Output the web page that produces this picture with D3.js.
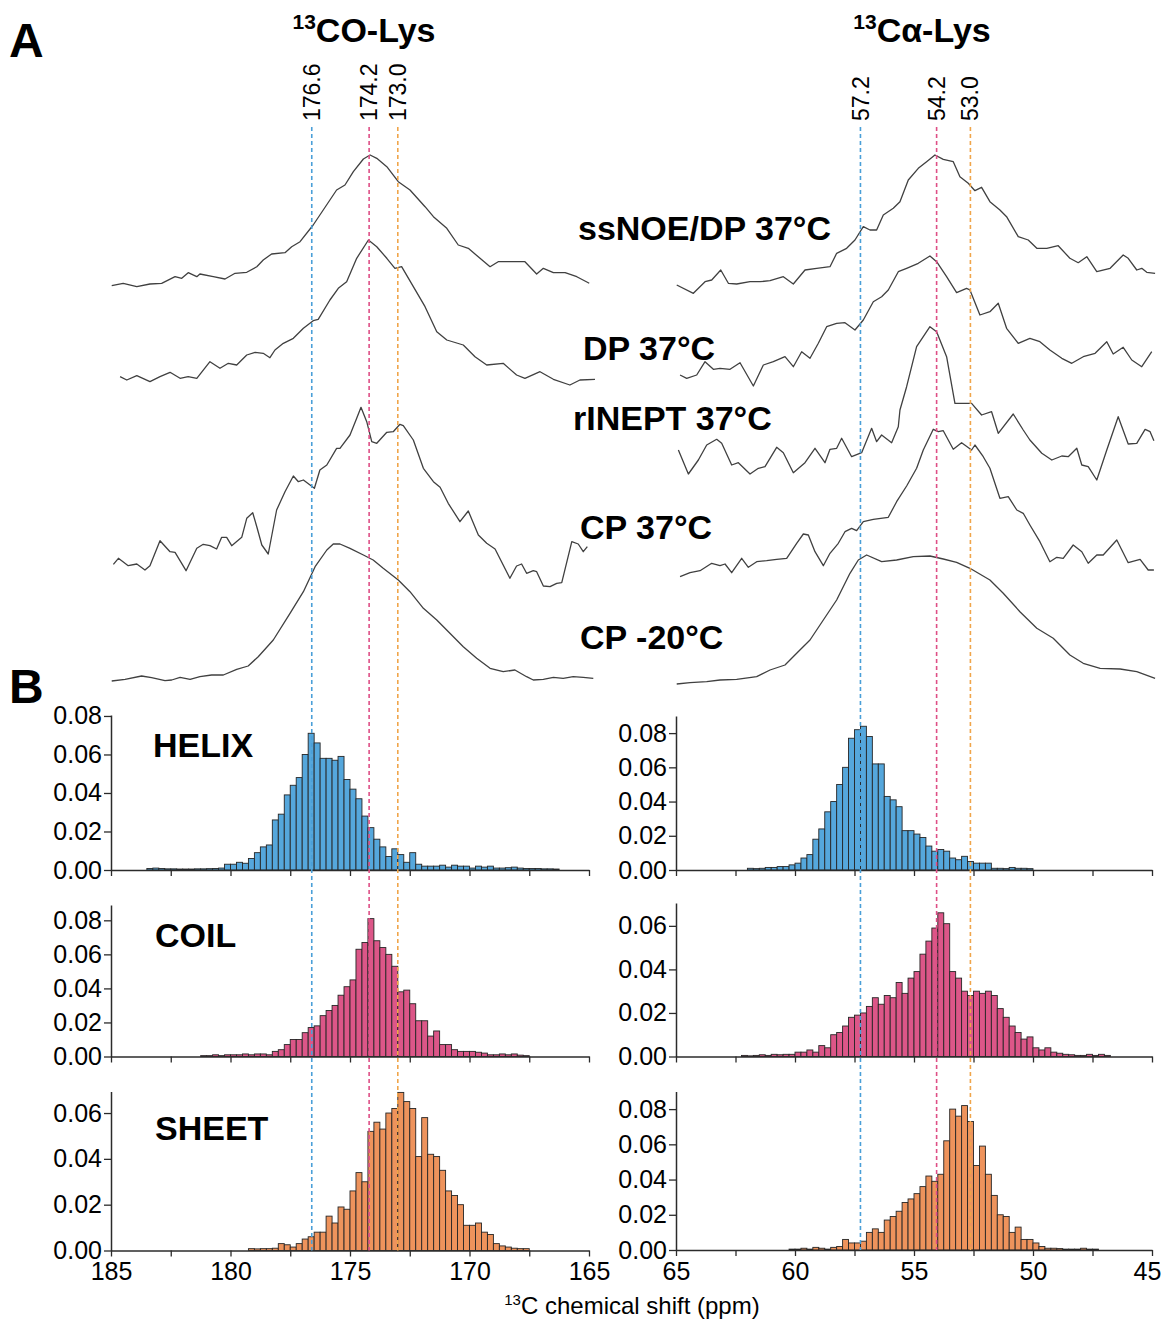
<!DOCTYPE html>
<html>
<head>
<meta charset="utf-8">
<script src="https://cdn.jsdelivr.net/npm/d3@7"></script>
<style>
  body { margin: 0; background: #fff; }
  text { font-family: Arial, "Liberation Sans", sans-serif; fill: #000; }
</style>
</head>
<body>
<svg id="chart" width="1163" height="1322"></svg>
<script>
// ---------- data: spectra, [ppm, intensity a.u.] ----------
const spectrumNames = ["ssNOE/DP 37°C", "DP 37°C", "rINEPT 37°C", "CP 37°C", "CP -20°C"];

const coSsnoe = [[184.97,4.3],[184.49,6.7],[183.92,3.3],[183.37,6],[182.88,6.7],[182.32,13.3],[182.04,11.7],[181.77,17.3],[181.41,13.3],[181.28,16],[180.72,13.3],[180.23,11],[179.81,16.7],[179.32,17.7],[178.9,23.3],[178.63,30],[178.28,36],[177.72,37.3],[177.44,43.3],[177.09,48.3],[176.54,65],[175.84,90],[175.56,100],[175.21,105],[174.86,118.3],[174.44,131],[174.16,135],[173.88,131.7],[173.46,123.3],[172.98,108.3],[172.49,100],[171.86,83.3],[171.51,73.3],[170.95,61.7],[170.47,45],[170.05,41.7],[169.56,31.7],[169.14,23.3],[168.8,28.3],[168.31,28.3],[167.68,28.3],[167.19,16],[166.91,21.7],[166.49,17.3],[166.0,17.3],[165.51,13.3],[164.99,6.7]];
const coDp = [[184.62,8.3],[184.34,5],[183.92,9.3],[183.37,3.3],[182.95,8.3],[182.53,12.7],[182.11,6.7],[181.77,8.3],[181.41,6.7],[180.86,23.3],[180.44,16.7],[180.09,21.7],[179.74,20],[179.32,30],[178.97,32.7],[178.63,31.7],[178.35,27.3],[178.14,35],[177.79,41.7],[177.37,46.7],[176.95,56.7],[176.54,64.3],[176.33,65.7],[175.84,85],[175.49,96.7],[175.14,103.3],[174.72,126.7],[174.23,145],[173.88,138.3],[173.46,126.7],[173.12,116.7],[172.84,118.3],[172.35,98.3],[171.86,78.3],[171.37,53.3],[170.95,45],[170.26,40],[169.77,28.3],[169.28,20],[168.59,21.7],[168.03,10],[167.68,6.7],[167.05,13.3],[166.49,5.7],[165.8,0],[165.38,5],[164.75,5.7]];
const coCp37 = [[184.9,25.7],[184.69,31.7],[184.28,24.3],[183.92,26],[183.58,20],[183.37,24.3],[182.95,49.3],[182.53,38.3],[182.32,37.7],[181.86,19.3],[181.41,41.7],[181.14,45.7],[180.86,44.3],[180.58,41],[180.37,52.7],[180.16,52.7],[179.95,44.3],[179.53,52.7],[179.32,71.7],[179.07,77.3],[178.9,63.3],[178.69,45],[178.42,36],[178.07,80],[177.72,98.3],[177.37,114],[177.16,108.3],[176.95,110],[176.49,101.7],[176.26,120],[175.97,125],[175.56,141.7],[175.42,141.7],[175.0,155],[174.72,171.7],[174.54,182.7],[174.3,168.3],[174.09,148.3],[173.88,146.7],[173.46,157.7],[173.19,158.3],[172.91,165.7],[172.77,164.3],[172.35,150],[171.93,121.7],[171.51,108.3],[171.23,102.7],[170.89,86.7],[170.4,68.3],[170.05,79],[169.63,55],[169.28,46.7],[168.93,41],[168.31,11.7],[168.03,24],[167.82,26],[167.61,16.7],[167.33,19.3],[167.19,18.3],[166.91,4],[166.63,3.3],[166.35,6.7],[166.14,7.3],[165.72,48.3],[165.45,46],[165.24,38.3],[165.07,43.3]];
const coCp20 = [[184.97,4],[184.41,5.7],[183.72,9],[183.3,7.3],[182.74,4.3],[182.46,5],[182.11,7.7],[181.69,5.7],[181.28,8.3],[180.79,10],[180.3,10],[179.74,15.7],[179.26,19],[178.84,28.3],[178.21,45],[177.51,71.7],[176.95,93.3],[176.46,118.3],[175.97,135],[175.7,141],[175.42,141],[175.0,136.7],[174.44,130],[174.03,125],[173.61,116.7],[172.98,105],[172.49,93.3],[171.93,76.7],[171.37,65],[170.82,51.7],[170.26,38.3],[169.7,26.7],[169.14,16.7],[168.59,13.3],[168.1,15],[167.61,8.3],[167.33,5],[166.91,5.7],[166.49,7.7],[166.08,6.7],[165.66,8.3],[165.24,7.7],[164.82,6.7]];

const caSsnoe = [[64.97,10],[64.27,1.7],[63.78,13.3],[63.5,15],[63.12,25],[62.8,11.7],[62.45,11],[61.89,13.3],[61.47,13.3],[61.05,14.3],[60.49,18.3],[60.07,11],[59.58,25],[59.09,26.7],[58.53,28.3],[58.25,41.7],[57.83,46.7],[57.48,55],[57.13,68.3],[56.85,65],[56.57,65],[56.29,80],[55.87,86.7],[55.59,93.3],[55.24,115],[54.82,126.7],[54.47,133.3],[54.12,140],[53.77,135.7],[53.35,133.3],[53.07,118.3],[52.72,111.7],[52.44,104.3],[52.16,107.7],[51.81,93.3],[51.39,85],[51.11,78.3],[50.62,58.3],[50.2,55],[49.84,46.7],[49.42,46.7],[48.94,49.3],[48.45,36.7],[48.1,32.3],[47.74,38.3],[47.32,23.3],[46.76,26.7],[46.21,40],[46.0,36.7],[45.64,25],[45.43,26.7],[45.22,22.7],[44.87,21.7]];
const caDp = [[64.83,15],[64.55,11.7],[64.13,15],[63.78,28.3],[63.43,20.7],[63.15,21.7],[62.73,20.7],[62.31,27.3],[61.75,4],[61.33,25],[60.91,28.3],[60.42,33.3],[60.07,23.3],[59.72,38.3],[59.37,31.7],[59.02,46.7],[58.67,63.3],[58.25,66.7],[57.9,67.3],[57.48,60],[57.13,70],[56.71,88.3],[56.36,93.3],[56.08,100],[55.66,118.3],[55.31,121.7],[54.82,126.7],[54.33,134],[54.05,128.3],[53.63,113.3],[53.21,97.3],[52.79,101.7],[52.65,100],[52.23,75],[51.81,78.3],[51.46,86.7],[51.11,61.7],[50.62,46.7],[50.13,51.7],[49.71,48.3],[49.29,40],[48.79,31.7],[48.37,26.7],[47.89,33.3],[47.39,36.7],[46.9,48.3],[46.63,36],[46.21,42.7],[45.85,30],[45.43,23.3],[45.01,38.3]];
const caRinept = [[64.9,30],[64.48,6],[64.06,20],[63.71,35],[63.29,40.7],[63.08,36.7],[62.66,15],[62.38,17.3],[61.89,6],[61.54,11.7],[61.26,13.3],[60.77,32.7],[60.49,27.3],[60.07,7.3],[59.58,17.3],[59.16,31.7],[58.74,17.3],[58.53,30.7],[58.25,31.7],[58.04,41.7],[57.62,23.3],[57.2,27.3],[56.78,51.7],[56.57,38.3],[56.36,45],[55.94,37.3],[55.66,53.3],[55.59,70],[55.31,93.3],[54.89,133.3],[54.33,153.3],[54.05,148.3],[53.63,123.3],[53.28,76.7],[52.58,76.7],[52.16,65],[51.74,68.3],[51.46,46.7],[50.83,66],[50.41,50],[50.13,40],[49.63,26.7],[49.21,20],[48.79,24],[48.52,23.3],[48.16,31.7],[47.95,15],[47.68,13.3],[47.32,0],[46.9,30],[46.42,63.3],[46.0,36],[45.64,36.7],[45.29,50.7],[45.08,48.3],[44.92,39.3]];
const caCp37 = [[64.83,13.3],[64.41,17.3],[63.99,19.3],[63.5,26.7],[63.15,24.3],[62.94,26],[62.66,17.3],[62.24,31.7],[61.96,22.7],[61.61,28.3],[61.19,29.3],[60.77,30.7],[60.35,31.7],[59.93,46.7],[59.65,56],[59.44,55],[59.16,38.3],[58.81,24.3],[58.53,36.7],[58.18,46.7],[57.9,58.3],[57.62,61.7],[57.41,59.3],[57.13,68.3],[56.71,70.7],[56.08,72.7],[55.73,88.3],[55.31,104],[54.89,121.7],[54.61,140],[54.19,160.7],[53.98,158.3],[53.77,159.3],[53.35,140.7],[53.0,147.3],[52.58,140],[52.44,145],[52.09,133.3],[51.81,121.7],[51.39,91.7],[51.04,93.3],[50.68,80],[50.41,76.7],[50.13,65],[49.71,48.3],[49.29,28.3],[49.0,32.7],[48.73,31.7],[48.31,45],[47.95,38.3],[47.68,26.7],[47.32,35],[47.05,35],[46.48,50],[46.0,27.3],[45.5,30.7],[45.16,20],[44.92,20]];
const caCp20 = [[64.97,1],[64.41,2.3],[63.71,3.3],[63.15,5],[62.45,5.7],[61.61,8.3],[61.05,15],[60.42,20],[59.93,31.7],[59.37,45],[58.81,65],[58.25,85],[57.69,111.7],[57.34,125],[56.99,130],[56.36,123.3],[55.73,125],[55.03,128.3],[54.33,129],[53.77,126],[53.21,122.7],[52.65,116.7],[51.81,105],[51.25,91.7],[50.55,73.3],[49.84,56.7],[49.15,46.7],[48.45,30],[47.89,21.7],[47.18,16.7],[46.34,16],[45.64,13.3],[44.87,6.7]];

// vertical stacking offsets of the five spectra (a.u.), no rINEPT trace for CO
const coOffsets = [410, 315, null, 110, 15];
const caOffsets = [405, 310, 220, 110, 15];

// ---------- data: reference shifts ----------
const coMarks = [176.6, 174.2, 173.0];
const coMarkLabels = ["176.6", "174.2", "173.0"];
const caMarks = [57.25, 54.05, 52.63];
const caMarkLabels = ["57.2", "54.2", "53.0"];

// ---------- data: histograms, bin width 0.25 ppm, first value = bin below start ppm ----------
const binWidth = 0.25;
const structNames = ["HELIX", "COIL", "SHEET"];

const helixCoStart = 183.5;
const helixCo = [.0008,.001,.0008,.0006,.0006,.0005,.0005,.0005,.0006,.0006,.0007,.0008,.001,.003,.003,.004,.0035,.006,.009,.012,.013,.026,.029,.039,.044,.048,.060,.071,.066,.058,.058,.057,.059,.047,.042,.037,.028,.022,.016,.012,.007,.011,.008,.004,.009,.003,.002,.002,.002,.0025,.0015,.0025,.002,.002,.001,.002,.0015,.002,.001,.001,.0012,.0015,.001,.0008,.0008,.0008,.0006,.0006,.0005];
const helixCaStart = 62.0;
const helixCa = [.001,.0008,.001,.0015,.0015,.002,.002,.003,.004,.007,.009,.018,.024,.034,.040,.050,.060,.077,.082,.084,.078,.062,.062,.043,.041,.037,.023,.023,.021,.019,.014,.011,.012,.011,.007,.006,.008,.005,.004,.004,.004,.001,.001,.0008,.0015,.001,.001,.0008];

const coilCoStart = 181.25;
const coilCo = [.0005,.0005,.001,.0005,.001,.001,.001,.0015,.001,.0015,.0015,.001,.003,.004,.007,.010,.010,.014,.017,.018,.024,.027,.030,.036,.041,.045,.063,.067,.081,.068,.064,.060,.053,.038,.039,.031,.021,.021,.012,.015,.007,.007,.004,.003,.003,.003,.0025,.002,.001,.001,.0015,.001,.0015,.0008,.0005];
const coilCaStart = 62.25;
const coilCa = [.0005,.0003,.0005,.0008,.0005,.001,.0008,.001,.001,.002,.002,.003,.002,.005,.004,.010,.011,.014,.018,.019,.020,.023,.027,.024,.028,.027,.034,.029,.036,.039,.047,.053,.059,.066,.061,.039,.036,.030,.028,.030,.029,.030,.028,.022,.018,.014,.011,.008,.009,.004,.003,.004,.002,.0015,.001,.0008,.0005,.0005,.001,.0005,.001,.0005];

const sheetCoStart = 179.25;
const sheetCo = [.0008,.0007,.0008,.0008,.001,.003,.0025,.0015,.003,.005,.006,.008,.008,.015,.012,.019,.018,.026,.034,.030,.052,.056,.053,.060,.062,.069,.065,.062,.041,.058,.042,.041,.035,.026,.024,.020,.011,.011,.012,.008,.007,.003,.002,.0015,.001,.0008,.0008];
const sheetCaStart = 60.25;
const sheetCa = [.0005,.0005,.001,.0005,.0015,.001,.0005,.0015,.002,.006,.004,.004,.005,.010,.012,.010,.017,.019,.022,.027,.029,.032,.036,.042,.039,.043,.062,.080,.076,.082,.073,.048,.059,.043,.031,.020,.019,.010,.013,.006,.006,.004,.002,.001,.001,.0008,.0005,.0005,.0005,.001,.0005,.0005];

// y-axis ranges and ticks per panel (row by row: CO, Calpha)
const yMaxCo = [0.0805, 0.089, 0.0694];
const yMaxCa = [0.09, 0.0705, 0.09];
const yTicksCo = [[0,.02,.04,.06,.08],[0,.02,.04,.06,.08],[0,.02,.04,.06]];
const yTicksCa = [[0,.02,.04,.06,.08],[0,.02,.04,.06],[0,.02,.04,.06,.08]];
const coTicks = d3.range(185, 164.9, -2.5);
const caTicks = d3.range(65, 44.9, -2.5);

// ---------- layout ----------
const svg = d3.select("#chart");
const ink = "#2b2b2b";
const markColors = ["#4a9fd8", "#de4f86", "#f0a54a"];
const barColors = ["#55a7dc", "#dc5688", "#ee935c"];

const coX = d3.scaleLinear().domain([185, 165]).range([111, 589]);
const caX = d3.scaleLinear().domain([65, 45]).range([676, 1152]);
const specY = d3.scaleLinear().domain([0, 600]).range([700, 100]);

const rowsCo = [{ top: 715, bottom: 870 }, { top: 905, bottom: 1056.5 }, { top: 1091.5, bottom: 1250.5 }];
const rowsCa = [{ top: 716, bottom: 870 }, { top: 903, bottom: 1056.5 }, { top: 1091.5, bottom: 1250 }];

// panel letters
svg.append("text").attr("x", 9).attr("y", 57).attr("font-size", 48).attr("font-weight", "bold").text("A");
svg.append("text").attr("x", 9).attr("y", 703).attr("font-size", 48).attr("font-weight", "bold").text("B");

// titles with superscript
function title(x, main) {
  const t = svg.append("text").attr("x", x).attr("y", 42).attr("text-anchor", "middle")
    .attr("font-size", 34).attr("font-weight", "bold");
  t.append("tspan").attr("font-size", 21).attr("dy", -13).text("13");
  t.append("tspan").attr("dy", 13).text(main);
}
title(364, "CO-Lys");
title(922, "Cα-Lys");

// ---------- panel A: spectra ----------
function drawSpectra(x, traces, offsets) {
  traces.forEach((tr, i) => {
    if (!tr) return;
    const line = d3.line().x(d => x(d[0])).y(d => specY(d[1] + offsets[i]));
    svg.append("path").datum(tr).attr("d", line)
      .attr("fill", "none").attr("stroke", "#404040").attr("stroke-width", 1.3)
      .attr("stroke-linejoin", "round");
  });
}
drawSpectra(coX, [coSsnoe, coDp, null, coCp37, coCp20], coOffsets);
drawSpectra(caX, [caSsnoe, caDp, caRinept, caCp37, caCp20], caOffsets);

const specLabelPos = [[578, 240], [583, 360], [573, 430], [580, 539], [580, 649]];
spectrumNames.forEach((n, i) => {
  svg.append("text").attr("x", specLabelPos[i][0]).attr("y", specLabelPos[i][1])
    .attr("font-size", 34).attr("font-weight", "bold").text(n);
});

// ---------- panel B: histograms ----------
function drawHist(x, row, values, start, yMax, ticks, color, showLabels, xTicks) {
  const y = d3.scaleLinear().domain([0, yMax]).range([row.bottom, row.top]);
  const bins = values.map((v, i) => ({ hi: start - i * binWidth, lo: start - (i + 1) * binWidth, v }));
  svg.append("g").selectAll("rect").data(bins).join("rect")
    .attr("x", d => x(d.hi)).attr("width", d => x(d.lo) - x(d.hi))
    .attr("y", d => y(d.v)).attr("height", d => y(0) - y(d.v))
    .attr("fill", color).attr("stroke", "#262626").attr("stroke-width", 0.9);

  const ya = svg.append("g").attr("transform", `translate(${x.range()[0]},0)`)
    .call(d3.axisLeft(y).tickValues(ticks).tickFormat(d3.format(".2f")).tickSize(7).tickSizeOuter(0).tickPadding(2));
  const xa = svg.append("g").attr("transform", `translate(0,${row.bottom})`)
    .call(d3.axisBottom(x).tickValues(xTicks).tickSize(6).tickSizeOuter(0).tickPadding(6)
      .tickFormat(d => (showLabels && d % 5 === 0) ? d3.format("d")(d) : ""));
  [ya, xa].forEach(a => {
    a.select(".domain").attr("stroke", ink).attr("stroke-width", 1.5);
    a.selectAll(".tick line").attr("stroke", ink).attr("stroke-width", 1.3);
    a.selectAll("text").attr("font-size", 25).attr("fill", "#000")
      .style("font-family", "Arial, 'Liberation Sans', sans-serif");
  });
  // keep the last label inside the page
  xa.selectAll(".tick text").filter(d => d === 45).attr("dx", -5);
}

const histCo = [[helixCo, helixCoStart], [coilCo, coilCoStart], [sheetCo, sheetCoStart]];
const histCa = [[helixCa, helixCaStart], [coilCa, coilCaStart], [sheetCa, sheetCaStart]];
for (let r = 0; r < 3; r++) {
  drawHist(coX, rowsCo[r], histCo[r][0], histCo[r][1], yMaxCo[r], yTicksCo[r], barColors[r], r === 2, coTicks);
  drawHist(caX, rowsCa[r], histCa[r][0], histCa[r][1], yMaxCa[r], yTicksCa[r], barColors[r], r === 2, caTicks);
}

const structLabelPos = [[153, 757], [155, 947], [155, 1140]];
structNames.forEach((n, i) => {
  svg.append("text").attr("x", structLabelPos[i][0]).attr("y", structLabelPos[i][1])
    .attr("font-size", 34).attr("font-weight", "bold").text(n);
});

// x-axis title
const xt = svg.append("text").attr("x", 632).attr("y", 1314).attr("text-anchor", "middle").attr("font-size", 24);
xt.append("tspan").attr("font-size", 15).attr("dy", -9).text("13");
xt.append("tspan").attr("dy", 9).text("C chemical shift (ppm)");

// ---------- reference lines + labels ----------
function drawMarks(x, marks, labels, yEnd) {
  marks.forEach((m, i) => {
    svg.append("line").attr("x1", x(m)).attr("x2", x(m)).attr("y1", 127).attr("y2", yEnd)
      .attr("stroke", markColors[i]).attr("stroke-width", 1.6).attr("stroke-dasharray", "4,3");
    svg.append("text").attr("transform", `translate(${x(m)},121) rotate(-90)`)
      .attr("dy", "0.35em").attr("font-size", 23).text(labels[i]);
  });
}
drawMarks(coX, coMarks, coMarkLabels, rowsCo[2].bottom);
drawMarks(caX, caMarks, caMarkLabels, rowsCa[2].bottom);
</script>
</body>
</html>
